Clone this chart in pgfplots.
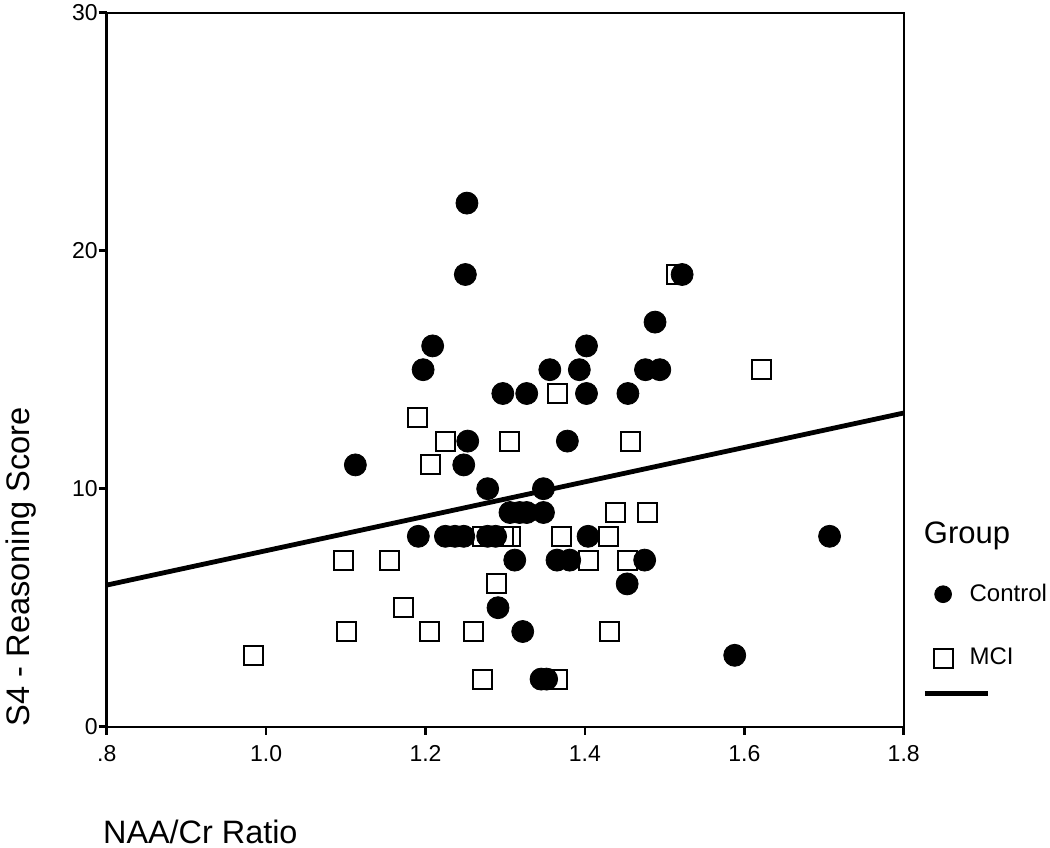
\documentclass[border=0pt]{standalone}
\usepackage{fontspec}
\setmainfont{Liberation Sans}
\usepackage{pgfplots}
\pgfplotsset{compat=1.18}

\pgfplotstableread{
x y
1.252 22
1.250 19
1.522 19
1.488 17
1.209 16
1.402 16
1.197 15
1.356 15
1.393 15
1.476 15
1.494 15
1.297 14
1.327 14
1.402 14
1.454 14
1.253 12
1.378 12
1.112 11
1.248 11
1.278 10
1.348 10
1.306 9
1.318 9
1.327 9
1.348 9
1.191 8
1.225 8
1.237 8
1.248 8
1.278 8
1.288 8
1.404 8
1.707 8
1.312 7
1.365 7
1.381 7
1.475 7
1.453 6
1.291 5
1.322 4
1.588 3
1.345 2
1.352 2
}\control

\pgfplotstableread{
x y
1.515 19
1.622 15
1.366 14
1.190 13
1.225 12
1.306 12
1.457 12
1.206 11
1.438 9
1.479 9
1.272 8
1.285 8
1.298 8
1.307 8
1.371 8
1.429 8
1.097 7
1.155 7
1.404 7
1.453 7
1.289 6
1.172 5
1.101 4
1.205 4
1.260 4
1.431 4
0.984 3
1.271 2
1.366 2
}\mci

\begin{document}
\begin{tikzpicture}
\useasboundingbox (-53.35pt,-60.15pt) rectangle (471.65pt,363.35pt);
\begin{axis}[
  scale only axis,
  width=398.5pt, height=357pt,
  xmin=0.8, xmax=1.8, ymin=0, ymax=30,
  clip=false,
  xtick={0.8,1.0,1.2,1.4,1.6,1.8},
  xticklabels={.8,1.0,1.2,1.4,1.6,1.8},
  ytick={0,10,20,30},
  yticklabels={0,10,20,30},
  tick pos=left,
  tick align=outside,
  major tick length=4pt,
  tick style={line width=1.3pt, black},
  axis line style={line width=1.2pt},
  ticklabel style={font=\fontsize{11.5}{13}\selectfont},
  xticklabel style={yshift=-2pt},
  yticklabel style={xshift=3pt},
  every axis x label/.style={at={(axis description cs:-0.005,-0.163)}, anchor=base west,
    inner sep=0pt, font=\fontsize{16.2}{19}\selectfont},
  every axis y label/.style={at={(axis description cs:-0.0875,0)}, rotate=90, anchor=south west,
    inner sep=0pt, font=\fontsize{16.3}{19}\selectfont},
  xlabel={NAA/Cr Ratio},
  ylabel={S4 - Reasoning Score},
  legend style={draw=none, fill=none, at={(axis description cs:1.02,0.2116)}, anchor=north west,
    font=\fontsize{12}{14}\selectfont, row sep=2pt,
    /tikz/every odd column/.append style={column sep=6.5pt}},
  legend cell align=left,
]
\addplot[only marks, mark=square, mark size=4.75pt, mark options={line width=1pt, fill=white}, forget plot]
  table[x=x, y=y] {\mci};
\addplot[only marks, mark=*, mark size=5.5pt, black, forget plot]
  table[x=x, y=y] {\control};
\addplot[line width=2.4pt, black, forget plot] coordinates {(0.8,5.95) (1.8,13.18)};

\addlegendimage{only marks, mark=*, mark size=4.2pt, black}
\addlegendentry{Control}
\addlegendimage{empty legend}
\addlegendentry{\rule{0pt}{8.4pt}}
\addlegendimage{only marks, mark=square, mark size=4.75pt, mark options={line width=1pt, fill=white}}
\addlegendentry{MCI}
\addlegendimage{legend image code/.code={\draw[overlay, line width=2.5pt] (-0.02cm,0cm) -- (1.09cm,0cm);}}
\addlegendentry{\rule{0pt}{11.9pt}}

\node[anchor=base west, font=\fontsize{15.5}{18}\selectfont] at (axis description cs:1.0165,0.257) {Group};
\end{axis}
\end{tikzpicture}
\end{document}
